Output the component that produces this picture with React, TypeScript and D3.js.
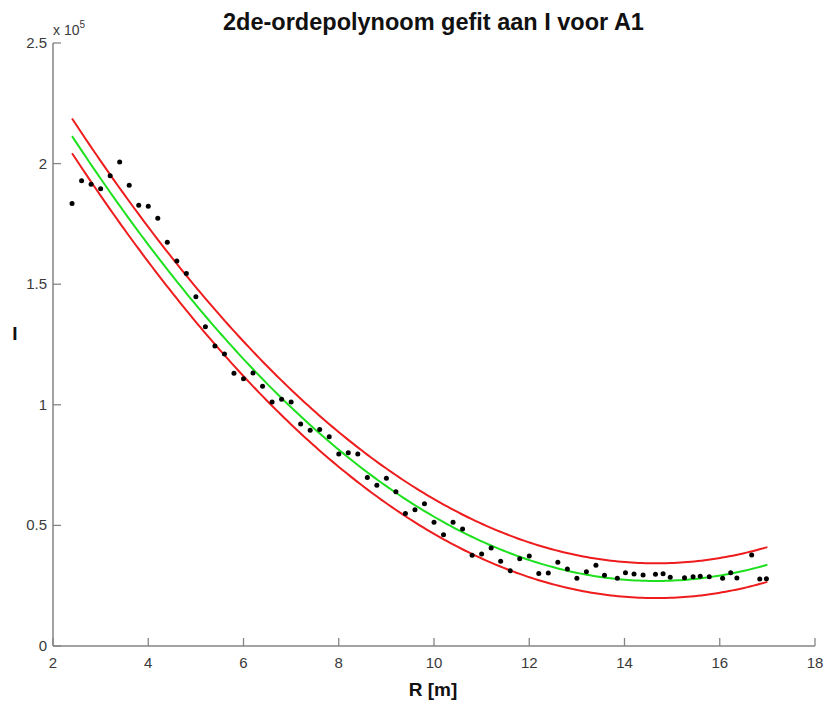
import React from "react";
import * as d3 from "d3";

const title = "2de-ordepolynoom gefit aan I voor A1";
const xLabel = "R [m]";
const yLabel = "I";
const xTicks = [2, 4, 6, 8, 10, 12, 14, 16, 18];
const yTicks = [0, 0.5, 1, 1.5, 2, 2.5];
const yTickLabels = ["0", "0.5", "1", "1.5", "2", "2.5"];

// measured data (I in units of 1e5)
const rValues = [
  2.4, 2.6, 2.8, 3.0, 3.2, 3.4, 3.6, 3.8, 4.0, 4.2, 4.4, 4.6, 4.8, 5.0, 5.2, 5.4, 5.6, 5.8,
  6.0, 6.2, 6.4, 6.6, 6.8, 7.0, 7.2, 7.4, 7.6, 7.8, 8.0, 8.2, 8.4, 8.6, 8.8, 9.0, 9.2, 9.4,
  9.6, 9.8, 10.0, 10.2, 10.4, 10.6, 10.8, 11.0, 11.2, 11.4, 11.6, 11.8, 12.0, 12.2, 12.4,
  12.6, 12.8, 13.0, 13.2, 13.4, 13.58, 13.85, 14.02, 14.2, 14.39, 14.65, 14.81, 14.96,
  15.26, 15.44, 15.59, 15.78, 16.06, 16.23, 16.36, 16.67, 16.84, 16.98,
];
const iValues = [
  1.835, 1.929, 1.914, 1.896, 1.95, 2.007, 1.91, 1.827, 1.823, 1.773, 1.674, 1.596, 1.544,
  1.448, 1.324, 1.244, 1.211, 1.131, 1.108, 1.132, 1.077, 1.012, 1.023, 1.012, 0.92, 0.894,
  0.898, 0.868, 0.796, 0.801, 0.796, 0.699, 0.666, 0.695, 0.64, 0.549, 0.565, 0.59, 0.513,
  0.461, 0.513, 0.485, 0.376, 0.381, 0.406, 0.351, 0.312, 0.362, 0.373, 0.301, 0.303, 0.347,
  0.319, 0.281, 0.308, 0.335, 0.293, 0.281, 0.304, 0.299, 0.294, 0.297, 0.3, 0.285, 0.283,
  0.287, 0.289, 0.287, 0.281, 0.304, 0.282, 0.377, 0.278, 0.279,
];

// polynomial coefficients [c0, c1, c2] (I/1e5 = c0 + c1 R + c2 R^2)
const fitCoeffs = [2.9069, -0.35983, 0.012274];
const upperCoeffs = [2.9799, -0.35983, 0.012274];
const lowerCoeffs = [2.8359, -0.35983, 0.012274];
const fitRange = [2.4, 17.0];

const W = 829;
const H = 707;
const margin = { left: 53, right: 14, top: 43, bottom: 61 };

export default function App() {
  const x = d3.scaleLinear().domain([2, 18]).range([margin.left, W - margin.right]);
  const y = d3.scaleLinear().domain([0, 2.5]).range([H - margin.bottom, margin.top]);

  const samples = d3.range(0, 201).map((i) => fitRange[0] + ((fitRange[1] - fitRange[0]) * i) / 200);
  const poly = (c: number[]) => (r: number) => c[0] + c[1] * r + c[2] * r * r;
  const line = (c: number[]) =>
    d3
      .line<number>()
      .x((r) => x(r))
      .y((r) => y(poly(c)(r)))(samples) || "";

  const font = "'Liberation Sans', Arial, Helvetica, sans-serif";
  const axisColor = "#858585";
  const x0 = x(2);
  const y0 = y(0);

  return (
    <svg
      width={W}
      height={H}
      style={{ position: "absolute", left: 0, top: 0, background: "#fff" }}
      fontFamily={font}
    >
      <rect width={W} height={H} fill="#fff" />
      <text x={433.5} y={30} textAnchor="middle" fontSize={23.5} fontWeight="bold" fill="#111">
        {title}
      </text>

      {/* axes */}
      <line x1={x0} x2={x(18)} y1={y0} y2={y0} stroke={axisColor} strokeWidth={1.5} />
      <line x1={x0} x2={x0} y1={y0} y2={y(2.5)} stroke={axisColor} strokeWidth={1.5} />
      {xTicks.map((t) => (
        <g key={"xt" + t}>
          <line x1={x(t)} x2={x(t)} y1={y0} y2={y0 - 8} stroke={axisColor} strokeWidth={1.3} />
          <text x={x(t)} y={y0 + 22} textAnchor="middle" fontSize={15} fill="#3a3a3a">
            {t}
          </text>
        </g>
      ))}
      {yTicks.map((t, i) => (
        <g key={"yt" + t}>
          <line x1={x0} x2={x0 + 8} y1={y(t)} y2={y(t)} stroke={axisColor} strokeWidth={1.3} />
          <text x={x0 - 6} y={y(t) + 5} textAnchor="end" fontSize={15} fill="#3a3a3a">
            {yTickLabels[i]}
          </text>
        </g>
      ))}
      <text x={53} y={35} fontSize={14} fill="#3a3a3a">
        x 10
        <tspan dy={-7} fontSize={10}>
          5
        </tspan>
      </text>

      <text x={433} y={696} textAnchor="middle" fontSize={19} fontWeight="bold" fill="#111">
        {xLabel}
      </text>
      <text x={15} y={340} textAnchor="middle" fontSize={19} fontWeight="bold" fill="#111">
        {yLabel}
      </text>

      {/* curves */}
      <path d={line(upperCoeffs)} fill="none" stroke="#ee1c1c" strokeWidth={2} />
      <path d={line(lowerCoeffs)} fill="none" stroke="#ee1c1c" strokeWidth={2} />
      <path d={line(fitCoeffs)} fill="none" stroke="#1ee01e" strokeWidth={2} />

      {/* data points */}
      {rValues.map((r, i) => (
        <circle key={"p" + i} cx={x(r)} cy={y(iValues[i])} r={2.5} fill="#000" />
      ))}
    </svg>
  );
}
